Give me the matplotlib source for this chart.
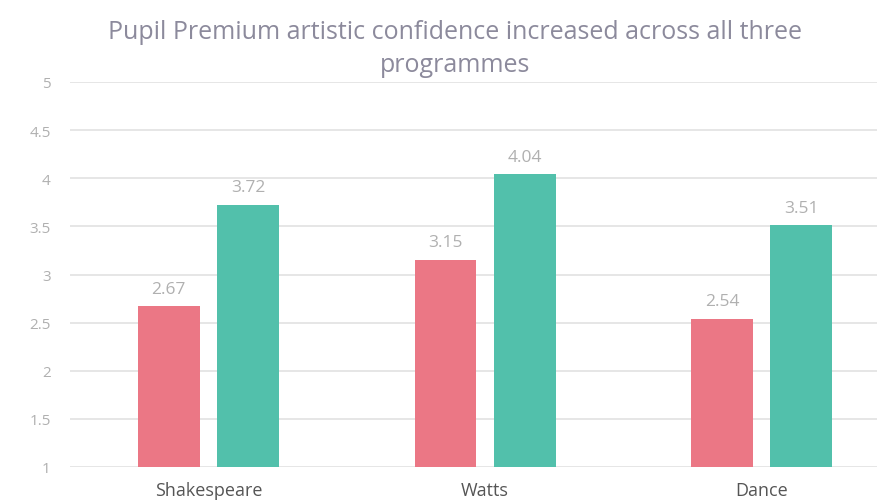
import numpy as np
import matplotlib.pyplot as plt

programmes = ['Shakespeare', 'Watts', 'Dance']
before = [2.67, 3.15, 2.54]
after = [3.72, 4.04, 3.51]
yticks = [1, 1.5, 2, 2.5, 3, 3.5, 4, 4.5, 5]

plt.rcParams['font.family'] = ['Open Sans', 'DejaVu Sans']

fig = plt.figure(figsize=(8.78, 5.02), dpi=100)
ax = fig.add_axes([70/878, 34/502, 1 - 70/878, (468-83)/502])

x = np.arange(len(programmes))
w = 0.224
b1 = ax.bar(x - 0.143, before, w, bottom=0, color='#EB7785', zorder=3)
b2 = ax.bar(x + 0.143, after, w, bottom=0, color='#52C0AB', zorder=3)

for bars, vals in [(b1, before), (b2, after)]:
    for r, v in zip(bars, vals):
        ax.annotate(f'{v:g}', (r.get_x() + r.get_width()/2, v), xytext=(0, 7),
                    textcoords='offset points', ha='center', va='bottom',
                    fontsize=12.5, color='#b0b0b0')

ax.set_ylim(1, 5)
ax.set_xlim(-0.5, 2.42)
ax.set_yticks(yticks)
ax.set_yticklabels([f'{t:g}' for t in yticks])
ax.set_xticks(x)
ax.set_xticklabels(programmes)
ax.tick_params(axis='y', length=0, pad=14, labelsize=11, labelcolor='#b0b0b0')
ax.tick_params(axis='x', length=0, pad=10, labelsize=13, labelcolor='#555555')
ax.grid(axis='y', color='#e2e2e2', linewidth=1.2, zorder=0)
for s in ax.spines.values():
    s.set_visible(False)

fig.text(455/878, 1 - 33/502, 'Pupil Premium artistic confidence increased across all three',
         ha='center', va='center', fontsize=18, color='#8c8a9c')
fig.text(455/878, 1 - 65/502, 'programmes',
         ha='center', va='center', fontsize=18, color='#8c8a9c')

fig.savefig('out.png', dpi=100)
